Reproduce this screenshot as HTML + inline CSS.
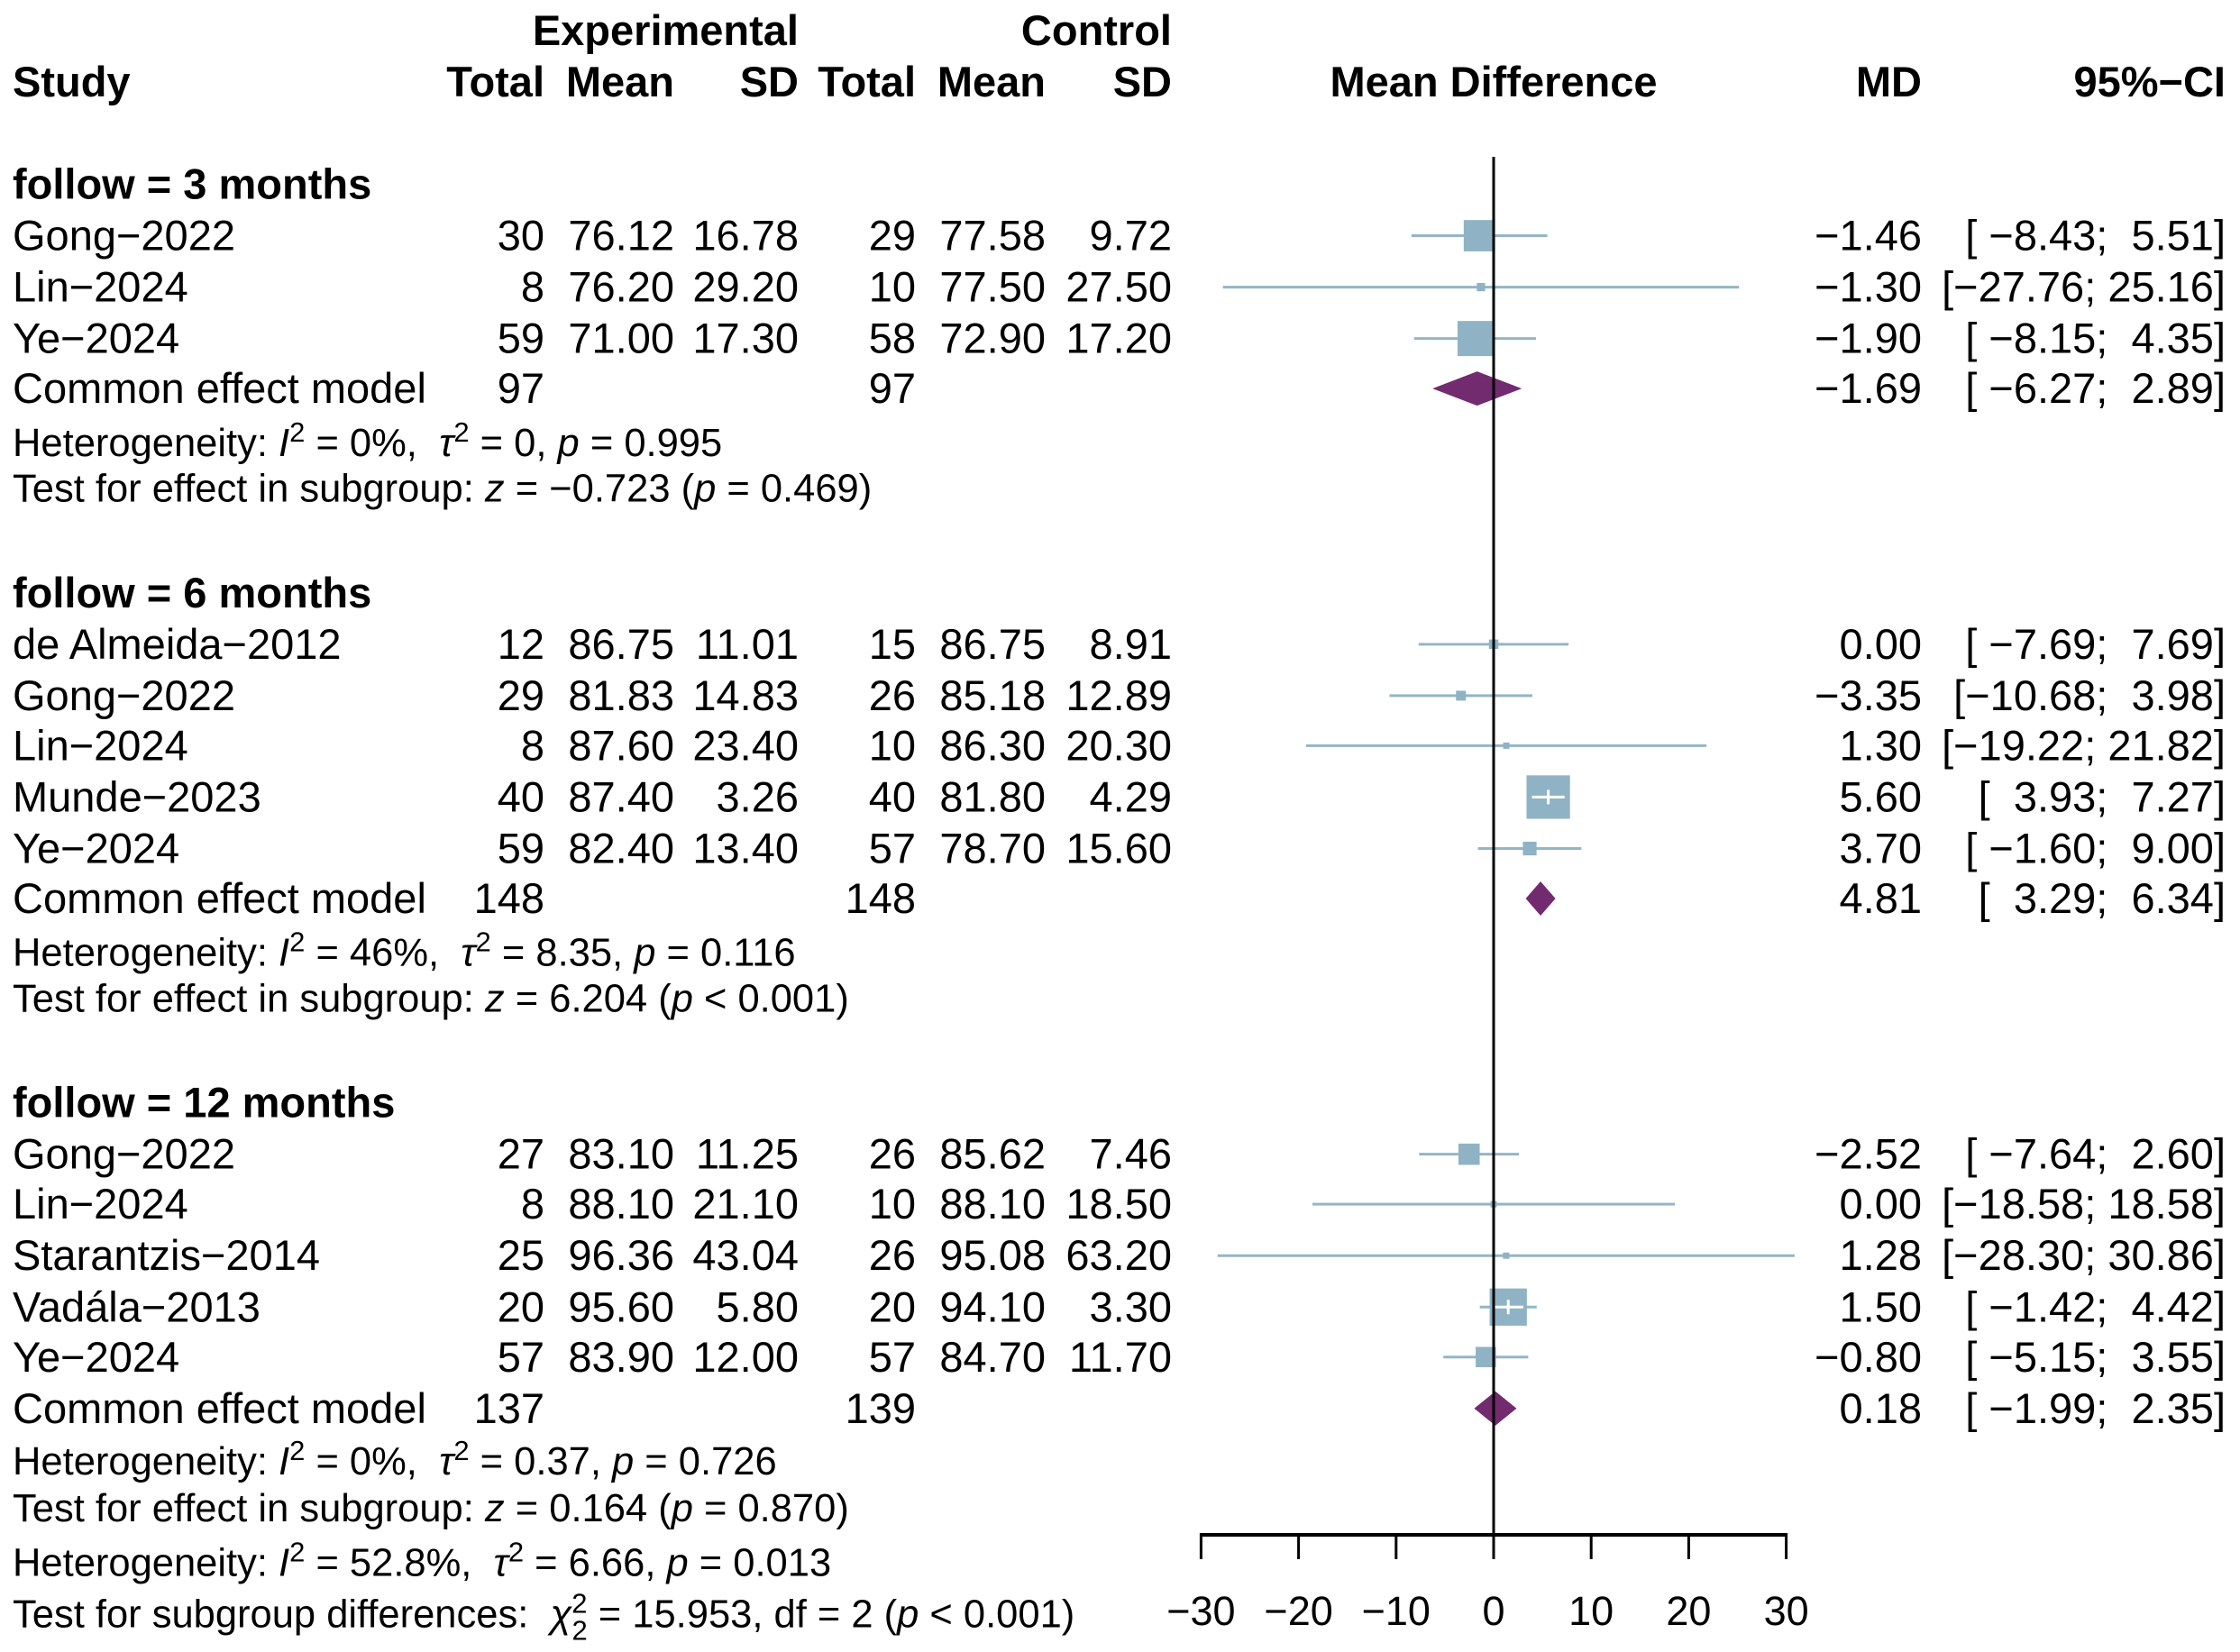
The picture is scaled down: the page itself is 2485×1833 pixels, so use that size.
<!DOCTYPE html>
<html><head><meta charset="utf-8"><style>
html,body{margin:0;padding:0;background:#fff;}
svg{display:block;font-family:"Liberation Sans",Arial,sans-serif;}
text{white-space:pre;}
</style></head><body>
<svg id="chart" width="2485" height="1833" viewBox="0 0 2485 1833" xmlns="http://www.w3.org/2000/svg">
<g id="hdr" font-weight="bold" font-size="47" fill="#000">
<text x="886" y="50" text-anchor="end">Experimental</text>
<text x="1300" y="50" text-anchor="end">Control</text>
<text x="14" y="107">Study</text>
<text x="604" y="107" text-anchor="end">Total</text>
<text x="748" y="107" text-anchor="end">Mean</text>
<text x="886" y="107" text-anchor="end">SD</text>
<text x="1016" y="107" text-anchor="end">Total</text>
<text x="1160" y="107" text-anchor="end">Mean</text>
<text x="1300" y="107" text-anchor="end">SD</text>
<text x="1657" y="107" text-anchor="middle">Mean Difference</text>
<text x="2132" y="107" text-anchor="end">MD</text>
<text x="2469" y="107" text-anchor="end">95%−CI</text>
</g>
<g id="rows" font-size="47" fill="#000"></g>
<g id="marks"></g>
<g id="axis"></g>
</svg>
<script>
const NS="http://www.w3.org/2000/svg";
// ---- data ----
const groupLabels=["follow = 3 months","follow = 6 months","follow = 12 months"];
const groupRowPos=[129,415,772];
const studyNames=["Gong−2022","Lin−2024","Ye−2024","de Almeida−2012","Gong−2022","Lin−2024","Munde−2023","Ye−2024","Gong−2022","Lin−2024","Starantzis−2014","Vadála−2013","Ye−2024"];
const studyGroup=[0,0,0,1,1,1,1,1,2,2,2,2,2];
const studyRowPos=[165,201,237,451,487,522,558,594,808,843,879,915,950];
const expTotal=["30","8","59","12","29","8","40","59","27","8","25","20","57"];
const expMean=["76.12","76.20","71.00","86.75","81.83","87.60","87.40","82.40","83.10","88.10","96.36","95.60","83.90"];
const expSD=["16.78","29.20","17.30","11.01","14.83","23.40","3.26","13.40","11.25","21.10","43.04","5.80","12.00"];
const ctrlTotal=["29","10","58","15","26","10","40","57","26","10","26","20","57"];
const ctrlMean=["77.58","77.50","72.90","86.75","85.18","86.30","81.80","78.70","85.62","88.10","95.08","94.10","84.70"];
const ctrlSD=["9.72","27.50","17.20","8.91","12.89","20.30","4.29","15.60","7.46","18.50","63.20","3.30","11.70"];
const md=[-1.46,-1.30,-1.90,0.00,-3.35,1.30,5.60,3.70,-2.52,0.00,1.28,1.50,-0.80];
const lo=[-8.43,-27.76,-8.15,-7.69,-10.68,-19.22,3.93,-1.60,-7.64,-18.58,-28.30,-1.42,-5.15];
const hi=[5.51,25.16,4.35,7.69,3.98,21.82,7.27,9.00,2.60,18.58,30.86,4.42,3.55];
const weightPct=[43,3,54,3.9,4.3,0.55,82.7,8.2,19.8,1.5,0.6,60.8,18.1];
const cemRowPos=[272,629,986];
const cemExpTotal=["97","148","137"];
const cemCtrlTotal=["97","148","139"];
const cemMD=[-1.69,4.81,0.18];
const cemLo=[-6.27,3.29,-1.99];
const cemHi=[2.89,6.34,2.35];
const hetRowPos=[309,666,1022];
const hetI2=["0%","46%","0%"];
const hetTau2=["0","8.35","0.37"];
const hetP=["0.995","0.116","0.726"];
const testRowPos=[341,698,1055];
const testZ=["−0.723","6.204","0.164"];
const testP=["= 0.469","< 0.001","= 0.870"];
const ticks=[-30,-20,-10,0,10,20,30];
// ---- layout ----
const S=1.585, X0=1657, U=10.82;
const xs=v=>X0+v*U;
const yc=r=>r*S;
const yb=r=>r*S+16;
const fmt=v=>(v<0?"−":"")+Math.abs(v).toFixed(2);
const rowsG=document.getElementById('rows');
const marksG=document.getElementById('marks');
const axisG=document.getElementById('axis');
function txt(parent,x,y,s,anchor,extra){
  const t=document.createElementNS(NS,'text');
  t.setAttribute('x',x);t.setAttribute('y',y);
  if(anchor)t.setAttribute('text-anchor',anchor);
  if(extra)for(const k in extra)t.setAttribute(k,extra[k]);
  t.textContent=s;parent.appendChild(t);return t;
}
function el(parent,tag,attrs){const e=document.createElementNS(NS,tag);for(const k in attrs)e.setAttribute(k,attrs[k]);parent.appendChild(e);return e;}
function ciStr(l,h){
  const a=fmt(l),b=fmt(h);
  return "["+a.padStart(6," ")+"; "+b.padStart(5," ")+"]";
}
const cols=[604,748,886,1016,1160,1300];
groupLabels.forEach((g,i)=>{
  const t=txt(rowsG,14,yb(groupRowPos[i]),g,null,{'font-weight':'bold'});
  
  
});
studyNames.forEach((n,i)=>{
  const y=yb(studyRowPos[i]);
  const t=txt(rowsG,14,y,n);
  
  
  [expTotal[i],expMean[i],expSD[i],ctrlTotal[i],ctrlMean[i],ctrlSD[i]].forEach((v,j)=>{
    const c=txt(rowsG,cols[j],y,v,'end');
    
    
  });
  const m=txt(rowsG,2132,y,fmt(md[i]),'end');
  
  
  const c=txt(rowsG,2469,y,ciStr(lo[i],hi[i]),'end');
  
  
  const ym=yc(studyRowPos[i]);
  const ln=el(marksG,'line',{x1:xs(lo[i]),x2:xs(hi[i]),y1:ym,y2:ym,stroke:'#93b6c4','stroke-width':3});
  
  
  const sz=Math.max(7,5.3*Math.sqrt(weightPct[i]));
  const bx=el(marksG,'rect',{x:xs(md[i])-sz/2,y:ym-sz/2,width:sz,height:sz,fill:'#8fb3c4'});
  
  
  if(xs(lo[i])>xs(md[i])-sz/2 || xs(hi[i])<xs(md[i])+sz/2 || sz>40){
    const w=el(marksG,'line',{x1:Math.max(xs(lo[i]),xs(md[i])-sz/2+4),x2:Math.min(xs(hi[i]),xs(md[i])+sz/2-4),y1:ym,y2:ym,stroke:'#fff','stroke-width':3});
    
    
    const tk=el(marksG,'line',{x1:xs(md[i]),x2:xs(md[i]),y1:ym-8,y2:ym+8,stroke:'#fff','stroke-width':3});
    
    
  }
});
cemRowPos.forEach((r,i)=>{
  const y=yb(r);
  const t=txt(rowsG,14,y,"Common effect model");
  
  
  const a=txt(rowsG,604,y,cemExpTotal[i],'end');
  
  
  const b=txt(rowsG,1016,y,cemCtrlTotal[i],'end');
  
  
  const m=txt(rowsG,2132,y,fmt(cemMD[i]),'end');
  
  
  const c=txt(rowsG,2469,y,ciStr(cemLo[i],cemHi[i]),'end');
  
  
  const ym=yc(r),h=19;
  const d=el(marksG,'polygon',{points:`${xs(cemLo[i])},${ym} ${xs(cemMD[i])},${ym-h} ${xs(cemHi[i])},${ym} ${xs(cemMD[i])},${ym+h}`,fill:'#722b6e'});
  
  
});
function hetLine(y,i2,tau,p,name){
  const t=document.createElementNS(NS,'text');
  t.setAttribute('x',14);t.setAttribute('y',y);t.setAttribute('font-size','43.5');
  
  
  t.innerHTML=`Heterogeneity: <tspan font-style="italic">I</tspan><tspan dy="-16" font-size="31">2</tspan><tspan dy="16"> = ${i2},  </tspan><tspan font-style="italic">τ</tspan><tspan dy="-16" font-size="31">2</tspan><tspan dy="16"> = ${tau}, </tspan><tspan font-style="italic">p</tspan> = ${p}`;
  rowsG.appendChild(t);
}
hetRowPos.forEach((r,i)=>hetLine(yb(r),hetI2[i],hetTau2[i],hetP[i],'heterogeneity-text'));
testRowPos.forEach((r,i)=>{
  const t=document.createElementNS(NS,'text');
  t.setAttribute('x',14);t.setAttribute('y',yb(r));t.setAttribute('font-size','43.5');
  
  
  t.innerHTML=`Test for effect in subgroup: <tspan font-style="italic">z</tspan> = ${testZ[i]} (<tspan font-style="italic">p</tspan> ${testP[i]})`;
  rowsG.appendChild(t);
});
hetLine(yb(1093),"52.8%","6.66","0.013",'overall-heterogeneity');
{
  const t=document.createElementNS(NS,'text');
  t.setAttribute('x',14);t.setAttribute('y',yb(1129));t.setAttribute('font-size','43.5');
  
  
  t.innerHTML=`Test for subgroup differences:  <tspan font-style="italic">χ</tspan><tspan dy="-16" font-size="31">2</tspan><tspan dx="-17" dy="30" font-size="31">2</tspan><tspan dy="-14"> = 15.953, df = 2 (</tspan><tspan font-style="italic">p</tspan> &lt; 0.001)`;
  rowsG.appendChild(t);
}
// axis
const ref=el(axisG,'line',{x1:xs(0),x2:xs(0),y1:174,y2:1703,stroke:'#000','stroke-width':3});


const ax=el(axisG,'line',{x1:xs(ticks[0]),x2:xs(ticks[ticks.length-1]),y1:1703,y2:1703,stroke:'#000','stroke-width':4});


ticks.forEach(v=>{
  const tk=el(axisG,'line',{x1:xs(v),x2:xs(v),y1:1701,y2:1730,stroke:'#000','stroke-width':3});
  
  
  const l=txt(axisG,xs(v),1803,(v<0?"−":"")+Math.abs(v),'middle',{'font-size':'45'});
  
  
});
</script>
</body></html>
